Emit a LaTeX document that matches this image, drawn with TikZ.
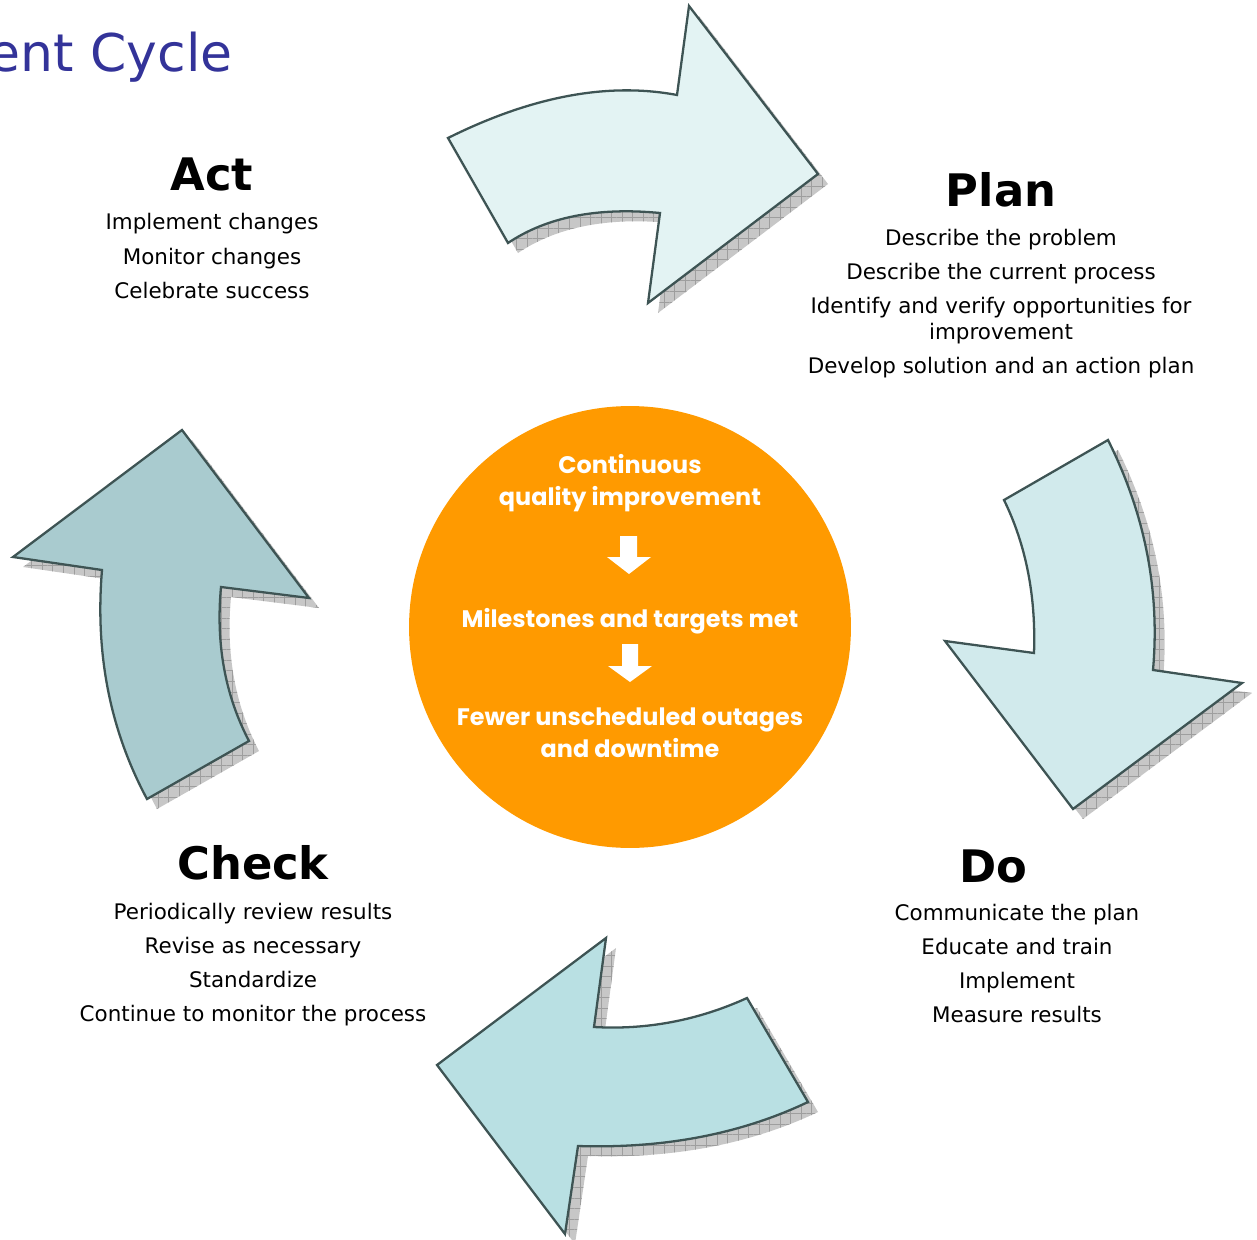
\documentclass[tikz,border=0pt]{standalone}
\usepackage{fontspec}
\setmainfont{DejaVu Sans}
\newfontfamily\hubfont{Poppins}
\usetikzlibrary{patterns.meta}

\definecolor{titleblue}{HTML}{333399}
\definecolor{orb}{HTML}{FF9A00}
\definecolor{edgegray}{HTML}{3E5454}
\definecolor{fillplan}{HTML}{E3F3F3}
\definecolor{filldo}{HTML}{D1EAEC}
\definecolor{fillcheck}{HTML}{B9E0E3}
\definecolor{fillact}{HTML}{A9CBCF}

% outlines of the four curved cycle arrows (pixel grid, y downwards)
\newcommand\arrowToPlan{(448,138) -- (508,243) .. controls (546.7,217) and (597.3,207) .. (660,213) -- (648,303) -- (818,174) -- (689,6) -- (677,95) .. controls (608,82) and (531.7,96.3) .. (448,138) -- cycle}
\newcommand\arrowToDo{(1108,440) -- (1004,500) .. controls (1026,545) and (1036,596) .. (1034,653) -- (945,641) -- (1073,809) -- (1242,683) -- (1153,670) .. controls (1160,590.7) and (1145,514) .. (1108,440) -- cycle}
\newcommand\arrowToCheck{(747,998) -- (808,1102) .. controls (740.7,1134) and (664,1148.7) .. (578,1146) -- (565,1234) -- (437,1065) -- (606,938) -- (594,1027) .. controls (647,1030) and (698,1020.3) .. (747,998) -- cycle}
\newcommand\arrowToAct{(147,799) -- (249,741) .. controls (225,695) and (215.7,643.7) .. (221,587) -- (309,598) -- (182,430) -- (13,557) -- (102,570) .. controls (95,653.7) and (110,730) .. (147,799) -- cycle}

\tikzset{
  cyclearrow/.style={draw=edgegray, line width=1.3pt, line join=miter},
  dropshadow/.style={draw=none, preaction={fill=black!22},
    pattern={Hatch[angle=0, distance=6pt, line width=0.3pt]}, pattern color=black!38},
  heading/.style={anchor=base, font=\bfseries\fontsize{25.5}{30}\selectfont},
  item/.style={anchor=base, font=\fontsize{12.2}{14}\selectfont},
  hubtext/.style={anchor=base, text=white, font=\hubfont\bfseries\fontsize{13.6}{16}\selectfont},
  hubarrow/.style={fill=white, draw=none}
}

\begin{document}
\begin{tikzpicture}[x=0.02cm, y=-0.02cm]
\useasboundingbox (0,0) rectangle (1257,1240);
\clip (0,0) rectangle (1257,1240);

% title, running off the left edge
\node[anchor=base east, text=titleblue, inner sep=0, font=\fontsize{29.6}{34}\selectfont] (title) at (233,72) {ent Cycle};

% shadows
\begin{scope}[shift={(10,10)}]
  \path[dropshadow] \arrowToPlan;
  \path[dropshadow] \arrowToDo;
  \path[dropshadow] \arrowToCheck;
  \path[dropshadow] \arrowToAct;
\end{scope}

% arrows
\path[cyclearrow, fill=fillplan] \arrowToPlan;
\path[cyclearrow, fill=filldo] \arrowToDo;
\path[cyclearrow, fill=fillcheck] \arrowToCheck;
\path[cyclearrow, fill=fillact] \arrowToAct;

% central disc
\node[circle, fill=orb, minimum size=8.84cm, inner sep=0] (hub) at (630,627) {};
\node[hubtext] (hub1) at (630,473) {Continuous};
\node[hubtext] (hub2) at (630,505) {quality improvement};
\fill[hubarrow] (620,536) -- (637,536) -- (637,557) -- (651,557) -- (629,574) -- (607,557) -- (620,557) -- cycle;
\node[hubtext] (hub3) at (630,627) {Milestones and targets met};
\fill[hubarrow] (622,644) -- (638,644) -- (638,666) -- (652,666) -- (630,682) -- (608,666) -- (622,666) -- cycle;
\node[hubtext] (hub4) at (630,725) {Fewer unscheduled outages};
\node[hubtext] (hub5) at (630,757) {and downtime};

% Act
\node[heading] (act) at (212,191) {Act};
\node[item] (act1) at (212,230) {Implement changes};
\node[item] (act2) at (212,264) {Monitor changes};
\node[item] (act3) at (212,298) {Celebrate success};

% Plan
\node[heading] (plan) at (1001,207) {Plan};
\node[item] (plan1) at (1001,245) {Describe the problem};
\node[item] (plan2) at (1001,279) {Describe the current process};
\node[item] (plan3) at (1001,313) {Identify and verify opportunities for};
\node[item] (plan4) at (1001,339) {improvement};
\node[item] (plan5) at (1001,373) {Develop solution and an action plan};

% Do
\node[heading] (do) at (993,882) {Do};
\node[item] (do1) at (1017,920) {Communicate the plan};
\node[item] (do2) at (1017,954) {Educate and train};
\node[item] (do3) at (1017,988) {Implement};
\node[item] (do4) at (1017,1022) {Measure results};

% Check
\node[heading] (check) at (253,879) {Check};
\node[item] (check1) at (253,919) {Periodically review results};
\node[item] (check2) at (253,953) {Revise as necessary};
\node[item] (check3) at (253,987) {Standardize};
\node[item] (check4) at (253,1021) {Continue to monitor the process};
\end{tikzpicture}
\end{document}
